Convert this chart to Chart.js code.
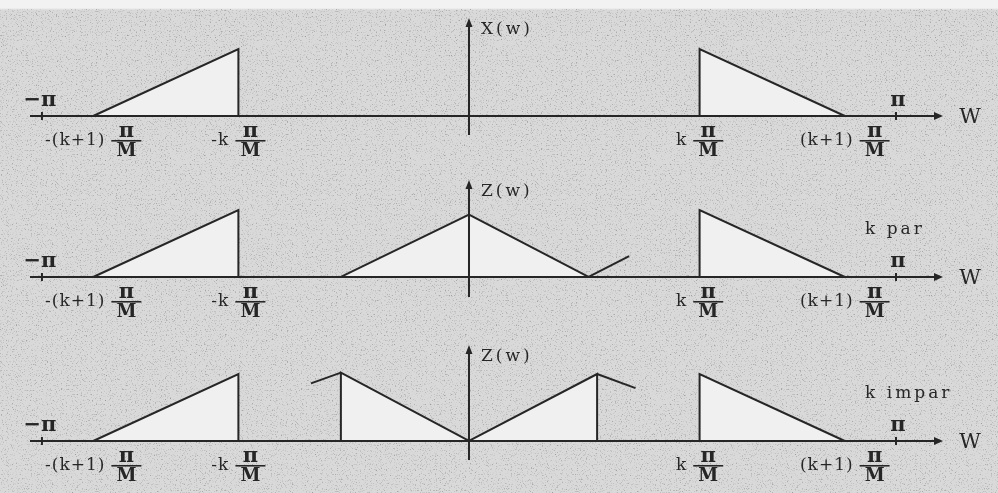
<!DOCTYPE html>
<html>
<head>
<meta charset="utf-8">
<script src="https://cdn.jsdelivr.net/npm/chart.js@4.4.1/dist/chart.umd.min.js"></script>
<style>
  html, body { margin: 0; padding: 0; }
  body { background: linear-gradient(#f2f2f2 0, #f2f2f2 8px, #d9d9d9 10px); }
  #wrap { position: relative; width: 998px; height: 493px; overflow: hidden; }
  /* scanned-paper grain under the transparent canvases */
  #grain {
    position: absolute; left: 0; top: 9px; width: 998px; height: 484px;
    background-image: url("data:image/svg+xml;utf8,<svg xmlns='http://www.w3.org/2000/svg' width='240' height='240'><filter id='n'><feTurbulence type='fractalNoise' baseFrequency='0.8' numOctaves='2' seed='7' stitchTiles='stitch'/><feColorMatrix values='0 0 0 0 0.3  0 0 0 0 0.3  0 0 0 0 0.3  3 0 0 0 -1.7'/></filter><rect width='100%' height='100%' filter='url(%23n)'/></svg>");
  }
  canvas { position: absolute; left: 0; }
</style>
</head>
<body>
<div id="wrap">
  <div id="grain"></div>
  <canvas id="p1" width="998" height="165" style="top:0"></canvas>
  <canvas id="p2" width="998" height="165" style="top:165px"></canvas>
  <canvas id="p3" width="998" height="163" style="top:330px"></canvas>
</div>
<script>
// frequencies are written as fractions of pi
const piMarks = [-1, 1];
const piNames = ['−π', 'π'];
const bandEdges = [-0.88, -0.54, 0.54, 0.88];
const bandPrefix = ['-(k+1)', '-k', 'k', '(k+1)'];

const panelTitles = ['X(w)', 'Z(w)', 'Z(w)'];
const panelNotes = ['', 'k par', 'k impar'];

// X(w): the two bands of the input spectrum
const xLeftBand = [[-0.88, 0], [-0.54, 1], [-0.54, 0]];
const xRightBand = [[0.54, 0], [0.54, 1], [0.88, 0]];

// Z(w) for even k: band shifted down to the origin
const zEvenCentre = [[-0.30, 0], [0, 0.93], [0.28, 0]];
const zEvenTail = [[0.28, 0], [0.375, 0.31]];

// Z(w) for odd k: mirrored image around the origin
const zOddTailLeft = [[-0.37, 0.86], [-0.30, 1.02]];
const zOddLeft = [[-0.30, 0], [-0.30, 1.02], [0, 0]];
const zOddRight = [[0, 0], [0.30, 1.0], [0.30, 0]];
const zOddTailRight = [[0.30, 1.0], [0.39, 0.79]];

const ink = '#262626';
const paper = '#f0f0f0';
const serif = '"DejaVu Serif", "Liberation Serif", serif';

function pts(list) {
  return list.map(([x, y]) => ({ x, y }));
}

function band(list) {
  return { data: pts(list), fill: 'origin', backgroundColor: paper };
}

function stroke(list) {
  return { data: pts(list), fill: false };
}

function fraction(ctx, cx, ay, prefix) {
  ctx.font = '17px ' + serif;
  ctx.letterSpacing = '1px';
  const pw = ctx.measureText(prefix).width;
  const fw = 30, gap = 6;
  const left = cx - (pw + gap + fw) / 2;
  ctx.textAlign = 'left';
  ctx.fillText(prefix, left, ay + 25);
  ctx.letterSpacing = '0px';
  const fc = left + pw + gap + fw / 2;
  ctx.textAlign = 'center';
  ctx.font = 'bold 21px ' + serif;
  ctx.fillText('π', fc, ay + 16);
  ctx.fillRect(fc - fw / 2, ay + 24, fw, 1.6);
  ctx.font = 'bold 18px ' + serif;
  ctx.fillText('M', fc, ay + 35);
}

// axes with arrow heads, tick names and the notes of each panel
const sketch = {
  id: 'sketch',
  afterDatasetsDraw(chart, args, opts) {
    const { ctx, chartArea: a, scales: { x, y } } = chart;
    const ay = y.getPixelForValue(0);
    const vx = x.getPixelForValue(0);
    ctx.save();
    ctx.strokeStyle = ink;
    ctx.fillStyle = ink;
    ctx.lineWidth = 2;

    ctx.beginPath();
    ctx.moveTo(a.left, ay);
    ctx.lineTo(a.right - 4, ay);
    ctx.moveTo(vx, a.bottom);
    ctx.lineTo(vx, a.top + 4);
    ctx.stroke();

    ctx.beginPath();
    ctx.moveTo(a.right, ay);
    ctx.lineTo(a.right - 9, ay - 4);
    ctx.lineTo(a.right - 9, ay + 4);
    ctx.closePath();
    ctx.moveTo(vx, a.top);
    ctx.lineTo(vx - 3.5, a.top + 9);
    ctx.lineTo(vx + 3.5, a.top + 9);
    ctx.closePath();
    ctx.fill();

    ctx.textBaseline = 'middle';
    ctx.font = '21px ' + serif;
    ctx.textAlign = 'center';
    ctx.fillText('W', a.right + 27, ay + 2);

    ctx.font = '17px ' + serif;
    ctx.letterSpacing = '3px';
    ctx.textAlign = 'left';
    ctx.fillText(opts.title, vx + 12, a.top + 12);
    if (opts.note) ctx.fillText(opts.note, 865, ay - 47);
    ctx.letterSpacing = '0px';

    piMarks.forEach((v, i) => {
      const px = x.getPixelForValue(v);
      ctx.beginPath();
      ctx.moveTo(px, ay - 4);
      ctx.lineTo(px, ay + 4);
      ctx.stroke();
      ctx.font = 'bold 21px ' + serif;
      ctx.textAlign = 'center';
      ctx.fillText(piNames[i], px - (i === 0 ? 2 : -2), ay - 15);
    });

    bandEdges.forEach((v, i) => {
      fraction(ctx, x.getPixelForValue(v), ay, bandPrefix[i]);
    });
    ctx.restore();
  }
};

function panel(id, datasets, title, note, yMin, yMax, pad) {
  new Chart(document.getElementById(id), {
    type: 'line',
    data: { datasets },
    options: {
      responsive: false,
      animation: false,
      devicePixelRatio: 1,
      events: [],
      layout: { padding: pad },
      elements: {
        line: { borderColor: ink, borderWidth: 2, tension: 0 },
        point: { radius: 0 }
      },
      scales: {
        x: { type: 'linear', min: -1.028, max: 1.11, display: false },
        y: { type: 'linear', min: yMin, max: yMax, display: false }
      },
      plugins: {
        legend: { display: false },
        tooltip: { enabled: false },
        sketch: { title, note }
      }
    },
    plugins: [sketch]
  });
}

panel('p1', [band(xLeftBand), band(xRightBand)],
  panelTitles[0], panelNotes[0], -0.284, 1.463,
  { top: 18, bottom: 30, left: 30, right: 55 });

panel('p2', [band(xLeftBand), band(zEvenCentre), stroke(zEvenTail), band(xRightBand)],
  panelTitles[1], panelNotes[1], -0.299, 1.448,
  { top: 15, bottom: 33, left: 30, right: 55 });

panel('p3', [band(xLeftBand), stroke(zOddTailLeft), band(zOddLeft), band(zOddRight),
  stroke(zOddTailRight), band(xRightBand)],
  panelTitles[2], panelNotes[2], -0.284, 1.433,
  { top: 15, bottom: 33, left: 30, right: 55 });
</script>
</body>
</html>
